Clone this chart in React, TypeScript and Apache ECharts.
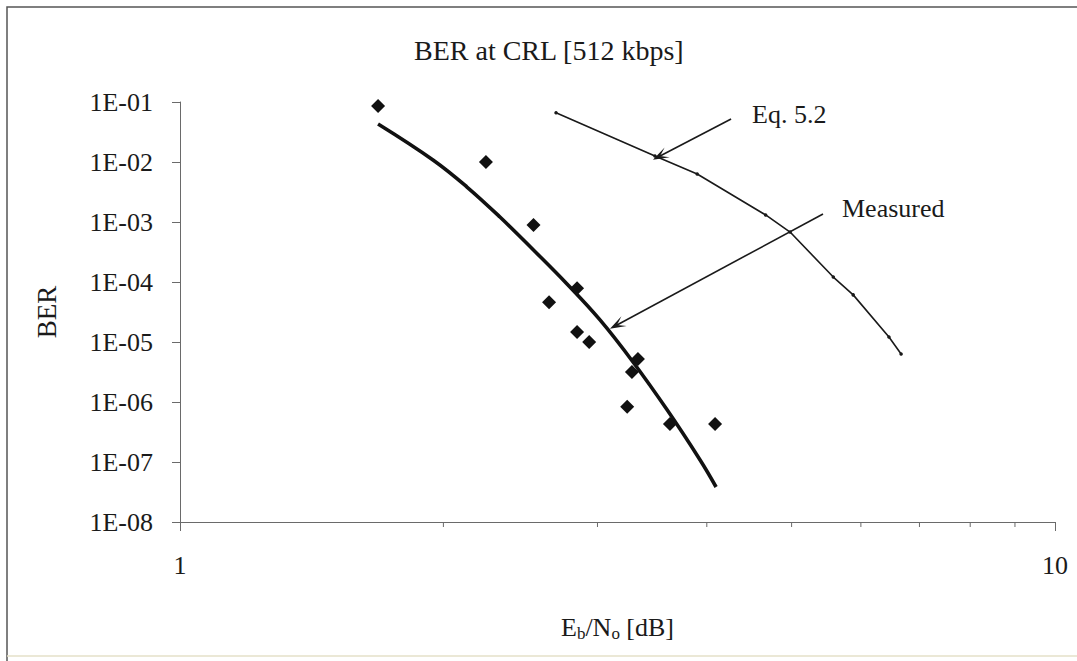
import React, { useEffect, useRef } from "react";
import * as echarts from "echarts";

// Measured BER points (Eb/No in dB, BER)
const measuredEbNo = [1.684, 2.237, 2.535, 2.641, 2.843, 2.843, 2.935, 3.337, 3.285, 3.244, 3.63, 4.088];
const measuredBer = [8.6e-2, 1.0e-2, 8.9e-4, 4.6e-5, 7.9e-5, 1.47e-5, 1.0e-5, 5.2e-6, 3.16e-6, 8.3e-7, 4.3e-7, 4.3e-7];

// Trend curve through the measured points
const fitEbNo = [1.684, 1.946, 2.128, 2.321, 2.535, 2.769, 3.02, 3.294, 3.603, 3.93, 4.099];
const fitBer = [4.3e-2, 1.08e-2, 3.83e-3, 1.21e-3, 3.41e-4, 9.26e-5, 2.33e-5, 4.64e-6, 7.4e-7, 1.08e-7, 3.83e-8];

// Theoretical curve (Eq. 5.2)
const eqEbNo = [2.69, 3.49, 3.9, 4.67, 4.98, 5.58, 5.88, 6.46, 6.67];
const eqBer = [6.6e-2, 1.26e-2, 6.3e-3, 1.31e-3, 6.8e-4, 1.21e-4, 6.1e-5, 1.21e-5, 6.3e-6];

// Minor ticks on the logarithmic Eb/No axis
const minorTicks = [2, 3, 4, 5, 6, 7, 8, 9];

// Annotation arrows: [fromEbNo, fromBer, toEbNo, toBer]
const eqArrow = [4.264, 5.2e-2, 3.537, 1.26e-2];
const measuredArrow = [5.431, 1.36e-3, 3.158, 1.92e-5];

const titleText = "BER at CRL [512 kbps]";
const yName = "BER";

const FONT = "'Liberation Serif', 'Times New Roman', serif";
const INK = "#1a1a1a";
const AXIS = "#6a6a6a";
const ARROW = "path://M5,0 L10,14 L5,7 L0,14 Z";

const zip = (xs: number[], ys: number[]) => xs.map((x, i) => [x, ys[i]]);

export default function App() {
  const ref = useRef<HTMLDivElement>(null);

  useEffect(() => {
    if (!ref.current) return;
    const chart = echarts.init(ref.current, null, { renderer: "svg" });

    const option: any = {
      animation: false,
      backgroundColor: "#ffffff",
      title: {
        text: titleText,
        left: 414,
        top: 36,
        padding: 0,
        textStyle: { fontFamily: FONT, fontSize: 28, fontWeight: "normal", color: INK },
      },
      grid: { left: 180, right: 22, top: 102, bottom: 139 },
      xAxis: {
        type: "log",
        logBase: 10,
        min: 1,
        max: 10,
        name: "{n|E}{s|b}{n|/N}{s|o}{n| [dB]}",
        nameLocation: "middle",
        nameGap: 91,
        nameTextStyle: {
          rich: {
            n: { fontFamily: FONT, fontSize: 26, color: INK },
            s: { fontFamily: FONT, fontSize: 17, color: INK, padding: [12, 0, 0, 0] },
          },
        },
        axisLine: { show: true, lineStyle: { color: AXIS, width: 1 } },
        axisTick: { show: true, length: 9, lineStyle: { color: AXIS } },
        axisLabel: {
          margin: 30,
          fontFamily: FONT,
          fontSize: 26,
          color: INK,
          formatter: (v: number) => String(Math.round(v)),
        },
        splitLine: { show: false },
      },
      yAxis: {
        type: "log",
        logBase: 10,
        min: 1e-8,
        max: 1e-1,
        name: yName,
        nameLocation: "middle",
        nameGap: 120,
        nameTextStyle: { fontFamily: FONT, fontSize: 27, color: INK },
        axisLine: { show: true, lineStyle: { color: AXIS, width: 1 } },
        axisTick: { show: true, length: 8, lineStyle: { color: AXIS } },
        axisLabel: {
          margin: 27,
          fontFamily: FONT,
          fontSize: 26,
          color: INK,
          formatter: (v: number) => {
            const e = Math.round(Math.log10(v));
            return "1E-" + String(-e).padStart(2, "0");
          },
        },
        splitLine: { show: false },
      },
      series: [
        {
          name: "Minor ticks",
          type: "custom",
          silent: true,
          data: minorTicks.map((v) => [v, 1e-8]),
          renderItem: (_params: any, api: any) => {
            const p = api.coord([api.value(0), api.value(1)]);
            return {
              type: "line",
              shape: { x1: p[0], y1: p[1], x2: p[0], y2: p[1] + 5 },
              style: { stroke: AXIS, lineWidth: 1 },
            };
          },
          z: 1,
        },
        {
          name: "Eq. 5.2",
          type: "line",
          data: zip(eqEbNo, eqBer),
          symbol: "circle",
          symbolSize: 3.5,
          showSymbol: true,
          itemStyle: { color: INK },
          lineStyle: { color: INK, width: 1.6 },
          silent: true,
          markLine: {
            silent: true,
            symbol: ["none", ARROW],
            symbolSize: [11, 16],
            label: { show: false },
            lineStyle: { color: INK, width: 1.6, type: "solid" },
            data: [
              [{ coord: [eqArrow[0], eqArrow[1]] }, { coord: [eqArrow[2], eqArrow[3]] }],
              [{ coord: [measuredArrow[0], measuredArrow[1]] }, { coord: [measuredArrow[2], measuredArrow[3]] }],
            ],
          },
          z: 3,
        },
        {
          name: "Measured fit",
          type: "line",
          data: zip(fitEbNo, fitBer),
          symbol: "none",
          smooth: 0.4,
          lineStyle: { color: "#111", width: 3.6 },
          silent: true,
          z: 4,
        },
        {
          name: "Measured",
          type: "scatter",
          data: zip(measuredEbNo, measuredBer),
          symbol: "diamond",
          symbolSize: 14,
          itemStyle: { color: "#111", opacity: 1 },
          silent: true,
          z: 5,
        },
      ],
      graphic: [
        {
          type: "polyline",
          shape: { points: [[7, 661], [7, 7], [1077, 7]] },
          style: { stroke: "#555", lineWidth: 1.5, fill: "none" },
          silent: true,
        },
        {
          type: "line",
          shape: { x1: 7, y1: 656, x2: 1077, y2: 656 },
          style: { stroke: "#e4e0c8", lineWidth: 1.5 },
          silent: true,
        },
        {
          type: "text",
          left: 752,
          top: 101,
          style: { text: "Eq. 5.2", font: `26px ${FONT}`, fill: INK },
          silent: true,
        },
        {
          type: "text",
          left: 842,
          top: 195,
          style: { text: "Measured", font: `26px ${FONT}`, fill: INK },
          silent: true,
        },
      ],
    };

    chart.setOption(option);
    return () => chart.dispose();
  }, []);

  return (
    <div
      ref={ref}
      style={{ position: "absolute", left: 0, top: 0, width: 1077, height: 661, background: "#fff" }}
    />
  );
}
